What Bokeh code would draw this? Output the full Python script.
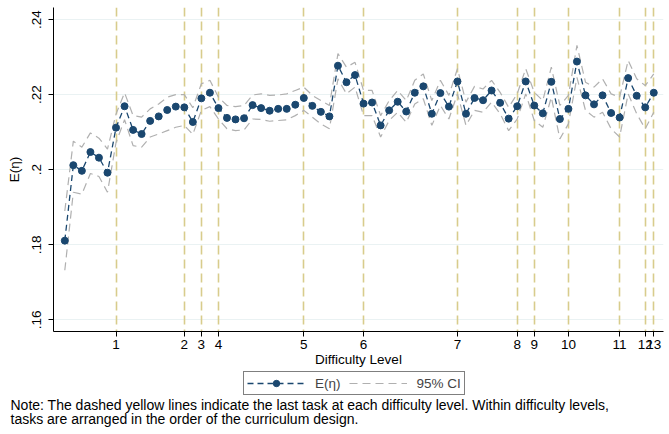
from bokeh.plotting import figure
from bokeh.models import (Legend, LegendItem, FixedTicker, Label, Range1d)
from bokeh.layouts import column
from bokeh.embed import file_html
from bokeh.resources import INLINE

# ---- data ----
tasks = list(range(1, 71))
estimate = [0.1811, 0.2012, 0.1997, 0.2047, 0.2032, 0.1992, 0.2112, 0.2169, 0.2106, 0.2095,
            0.2130, 0.2142, 0.2159, 0.2168, 0.2166, 0.2127, 0.2190, 0.2205, 0.2164, 0.2138,
            0.2134, 0.2137, 0.2172, 0.2164, 0.2157, 0.2162, 0.2162, 0.2173, 0.2191, 0.2170,
            0.2154, 0.2142, 0.2277, 0.2233, 0.2252, 0.2176, 0.2179, 0.2118, 0.2158, 0.2181,
            0.2155, 0.2205, 0.2222, 0.2149, 0.2204, 0.2168, 0.2235, 0.2149, 0.2191, 0.2185,
            0.2211, 0.2178, 0.2136, 0.2169, 0.2235, 0.2171, 0.2150, 0.2234, 0.2135, 0.2162,
            0.2288, 0.2198, 0.2174, 0.2198, 0.2151, 0.2139, 0.2244, 0.2197, 0.2166, 0.2205]
ci_upper = [0.1890, 0.2076, 0.2060, 0.2098, 0.2084, 0.2055, 0.2148, 0.2205, 0.2144, 0.2140,
            0.2162, 0.2175, 0.2193, 0.2200, 0.2200, 0.2165, 0.2229, 0.2238, 0.2193, 0.2171,
            0.2168, 0.2171, 0.2199, 0.2202, 0.2198, 0.2199, 0.2202, 0.2211, 0.2220, 0.2198,
            0.2184, 0.2171, 0.2309, 0.2273, 0.2286, 0.2211, 0.2211, 0.2144, 0.2184, 0.2211,
            0.2184, 0.2238, 0.2255, 0.2184, 0.2238, 0.2198, 0.2269, 0.2180, 0.2222, 0.2215,
            0.2238, 0.2206, 0.2166, 0.2202, 0.2269, 0.2206, 0.2184, 0.2273, 0.2171, 0.2198,
            0.2331, 0.2233, 0.2220, 0.2242, 0.2202, 0.2193, 0.2291, 0.2242, 0.2224, 0.2255]
ci_lower = [0.1732, 0.1940, 0.1935, 0.1990, 0.1982, 0.1940, 0.2072, 0.2133, 0.2064, 0.2060,
            0.2087, 0.2095, 0.2104, 0.2113, 0.2118, 0.2094, 0.2158, 0.2168, 0.2135, 0.2109,
            0.2104, 0.2106, 0.2135, 0.2134, 0.2129, 0.2131, 0.2133, 0.2144, 0.2158, 0.2140,
            0.2122, 0.2109, 0.2242, 0.2202, 0.2220, 0.2144, 0.2144, 0.2087, 0.2131, 0.2153,
            0.2126, 0.2175, 0.2189, 0.2118, 0.2171, 0.2135, 0.2202, 0.2118, 0.2158, 0.2153,
            0.2180, 0.2149, 0.2104, 0.2135, 0.2202, 0.2131, 0.2113, 0.2193, 0.2082, 0.2122,
            0.2246, 0.2158, 0.2140, 0.2153, 0.2109, 0.2087, 0.2202, 0.2149, 0.2109, 0.2153]
level_last_task = [7, 15, 17, 19, 29, 36, 47, 54, 56, 60, 66, 69, 70]
level_labels = ["1", "2", "3", "4", "5", "6", "7", "8", "9", "10", "11", "12", "13"]
y_ticks = [0.16, 0.18, 0.20, 0.22, 0.24]
y_tick_labels = [".16", ".18", ".2", ".22", ".24"]
note_lines = [
    "Note: The dashed yellow lines indicate the last task at each difficulty level. Within difficulty levels,",
    "tasks are arranged in the order of the curriculum design.",
]

NAVY = "#1a476f"
GREY = "#b0b0b0"
SAND = "#d8cc8c"
FONT = "Liberation Sans"
W = 668

p = figure(width=W, height=370, output_backend="svg", toolbar_location=None,
           x_range=Range1d(-0.324, 71.14), y_range=Range1d(0.1569, 0.2432),
           min_border_left=53, min_border_right=5, min_border_top=7,
           min_border_bottom=39, outline_line_color=None,
           background_fill_color="white", border_fill_color="white")
p.frame_align = False

# vertical dashed lines for last task of each level
p.vspan(x=level_last_task, line_color=SAND, line_width=1.6, line_dash="9 5")

up_r = p.line(tasks, ci_upper, line_color=GREY, line_width=1.2, line_dash="8 5")
lo_r = p.line(tasks, ci_lower, line_color=GREY, line_width=1.2, line_dash="8 5")
est_line = p.line(tasks, estimate, line_color=NAVY, line_width=1.3, line_dash="6 4")
est_pts = p.scatter(tasks, estimate, size=7, fill_color=NAVY, line_color=NAVY)

# axes
p.xgrid.visible = False
p.ygrid.grid_line_color = "#eaf2f3"
p.ygrid.grid_line_width = 1
p.ygrid.ticker = FixedTicker(ticks=y_ticks)

p.xaxis.ticker = FixedTicker(ticks=level_last_task)
p.xaxis.major_label_overrides = {t: l for t, l in zip(level_last_task, level_labels)}
p.yaxis.ticker = FixedTicker(ticks=y_ticks)
p.yaxis.major_label_overrides = {t: l for t, l in zip(y_ticks, y_tick_labels)}
p.yaxis.major_label_orientation = "vertical"

for ax in (p.xaxis[0], p.yaxis[0]):
    ax.axis_line_color = "black"
    ax.axis_line_width = 1
    ax.major_tick_line_color = "black"
    ax.major_tick_out = 5
    ax.major_tick_in = 0
    ax.minor_tick_out = 0
    ax.minor_tick_in = 0
    ax.major_label_text_font = FONT
    ax.major_label_text_font_size = "13.5px"
    ax.major_label_text_color = "black"
    ax.axis_label_text_font = FONT
    ax.axis_label_text_font_size = "13.5px"
    ax.axis_label_text_font_style = "normal"
    ax.axis_label_text_color = "black"

p.xaxis.axis_label = "Difficulty Level"
p.xaxis.major_label_standoff = 3
p.xaxis.axis_label_standoff = 0
p.yaxis.axis_label = "E(η)"
p.yaxis.major_label_standoff = 7
p.yaxis.axis_label_standoff = 8

# ---- legend + note panel ----
q = figure(width=W, height=64, output_backend="svg", toolbar_location=None,
           x_range=Range1d(0, W), y_range=Range1d(64, 0),
           x_axis_location=None, y_axis_location=None,
           min_border_left=0, min_border_right=0, min_border_top=0,
           min_border_bottom=0, outline_line_color=None,
           background_fill_color="white", border_fill_color="white")
q.frame_align = False
q.xgrid.visible = False
q.ygrid.visible = False

k_ci = q.line(tasks, ci_upper, line_color=GREY, line_width=1.2, line_dash="8 5",
              visible=False)
k_line = q.line(tasks, estimate, line_color=NAVY, line_width=1.3, line_dash="6 4",
                visible=False)
k_pts = q.scatter(tasks, estimate, size=7, fill_color=NAVY, line_color=NAVY,
                  visible=False)

legend = Legend(items=[LegendItem(label="E(η)", renderers=[k_line, k_pts]),
                       LegendItem(label="95% CI", renderers=[k_ci])],
                orientation="horizontal", location=(243, 39),
                border_line_color="black", border_line_width=1,
                glyph_width=58, glyph_height=16, label_standoff=10, spacing=8,
                padding=3, margin=0, label_text_font=FONT,
                label_text_font_size="13.5px", label_height=16,
                inactive_fill_alpha=0.0, background_fill_alpha=1.0)
q.add_layout(legend, "center")

for i, line in enumerate(note_lines):
    q.add_layout(Label(x=10, y=34 + 14 * i, text=line, text_font=FONT,
                       text_font_size="14px", text_color="black",
                       text_baseline="middle", text_align="left"))

layout = column(p, q, spacing=0)
open("out.html", "w").write(file_html(layout, INLINE))
